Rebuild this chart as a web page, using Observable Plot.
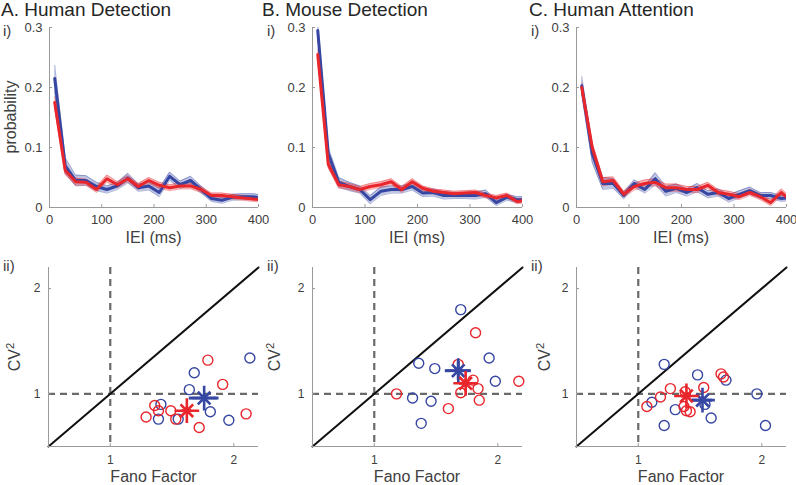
<!DOCTYPE html>
<html><head><meta charset="utf-8">
<script src="https://cdn.jsdelivr.net/npm/d3@7"></script>
<script src="https://cdn.jsdelivr.net/npm/@observablehq/plot@0.6"></script>
<style>
body{margin:0;background:#fff;}
#fig{position:relative;width:796px;height:485px;font-family:"Liberation Sans",Arial,sans-serif;color:#404040;overflow:hidden;background:#fff;}
.t{position:absolute;white-space:nowrap;line-height:1;}
.p{position:absolute;}
.t sup{font-size:0.7em;line-height:0;vertical-align:0.55em;}
</style></head><body><div id="fig"></div>
<script>
// ---------- data ----------
const iei = [10,30,50,70,90,110,130,150,170,190,210,230,250,270,290,310,330,350,370,390,410];
const xTicksTop = [0,100,200,300,400];
const yTicksTop = [0,0.1,0.2,0.3];
const cvDomain = [0.5, 2.2];
const cvTicks = [1, 2];

const humanDetBlue = [0.215,0.07,0.045,0.045,0.035,0.03,0.036,0.049,0.033,0.036,0.025,0.052,0.038,0.045,0.03,0.015,0.012,0.017,0.018,0.018,0.015];
const humanDetBlueSem = [0.022,0.013,0.009,0.008,0.007,0.006,0.006,0.008,0.006,0.007,0.007,0.007,0.006,0.007,0.006,0.005,0.005,0.005,0.005,0.005,0.005];
const humanDetRed = [0.175,0.062,0.043,0.042,0.03,0.048,0.038,0.048,0.035,0.045,0.037,0.033,0.036,0.036,0.03,0.02,0.02,0.018,0.016,0.014,0.013];
const humanDetRedSem = [0.01,0.007,0.006,0.005,0.005,0.006,0.005,0.005,0.005,0.005,0.005,0.005,0.005,0.005,0.005,0.004,0.004,0.004,0.004,0.004,0.004];

const mouseDetBlue = [0.295,0.09,0.042,0.035,0.03,0.013,0.027,0.03,0.03,0.035,0.024,0.025,0.02,0.02,0.02,0.02,0.023,0.008,0.017,0.013,0.013];
const mouseDetBlueSem = [0.012,0.01,0.008,0.007,0.006,0.007,0.007,0.006,0.006,0.006,0.006,0.006,0.006,0.005,0.005,0.006,0.006,0.005,0.005,0.005,0.005];
const mouseDetRed = [0.255,0.072,0.038,0.035,0.03,0.035,0.038,0.043,0.03,0.043,0.032,0.027,0.025,0.023,0.024,0.025,0.02,0.016,0.02,0.01,0.013];
const mouseDetRedSem = [0.008,0.006,0.006,0.005,0.005,0.005,0.005,0.005,0.005,0.005,0.004,0.004,0.004,0.004,0.004,0.004,0.004,0.004,0.004,0.004,0.004];

const humanAttBlue = [0.203,0.09,0.04,0.04,0.02,0.04,0.03,0.048,0.027,0.032,0.025,0.033,0.022,0.025,0.015,0.022,0.028,0.02,0.02,0.015,0.017];
const humanAttBlueSem = [0.015,0.015,0.01,0.008,0.006,0.006,0.006,0.01,0.008,0.007,0.006,0.007,0.006,0.006,0.006,0.006,0.006,0.005,0.005,0.005,0.005];
const humanAttRed = [0.2,0.1,0.043,0.045,0.022,0.035,0.04,0.042,0.033,0.033,0.03,0.03,0.037,0.025,0.022,0.018,0.025,0.018,0.008,0.025,0.011];
const humanAttRedSem = [0.008,0.007,0.007,0.006,0.005,0.006,0.006,0.006,0.006,0.006,0.005,0.005,0.005,0.005,0.005,0.005,0.005,0.005,0.005,0.006,0.005];

// scatter: [Fano Factor, CV^2]
const humanDetBlueFF = [[2.13,1.34],[1.68,1.20],[1.64,1.04],[1.41,0.90],[1.39,0.76],[1.55,0.76],[1.81,0.83],[1.96,0.75]];
const humanDetRedFF = [[1.79,1.32],[1.91,1.09],[1.36,0.89],[1.39,0.84],[1.49,0.84],[1.29,0.78],[1.53,0.76],[1.72,0.68],[2.10,0.81]];
const mouseDetBlueFF = [[1.70,1.80],[1.93,1.34],[1.36,1.29],[1.49,1.24],[1.98,1.12],[1.31,0.96],[1.46,0.93],[1.38,0.72]];
const mouseDetRedFF = [[1.82,1.58],[1.18,1.00],[1.70,1.01],[1.80,1.13],[1.84,1.05],[1.85,0.94],[1.60,0.86],[2.17,1.12],[1.68,1.28]];
const humanAttBlueFF = [[1.21,1.28],[1.48,1.18],[1.71,1.13],[1.96,1.00],[1.11,0.92],[1.30,0.85],[1.54,0.90],[1.59,0.77],[1.21,0.70],[2.03,0.70]];
const humanAttRedFF = [[1.67,1.19],[1.69,1.16],[1.26,1.05],[1.18,0.97],[1.07,0.88],[1.38,1.02],[1.53,1.06],[1.37,0.88],[1.39,0.84],[1.42,0.83]];

// means: [FF, CV2, FF err, CV2 err]
const humanDetBlueMean = [1.76, 0.96, 0.12, 0.03];
const humanDetRedMean = [1.62, 0.84, 0.04, 0.03];
const mouseDetBlueMean = [1.68, 1.22, 0.105, 0.09];
const mouseDetRedMean = [1.74, 1.10, 0.05, 0.04];
const humanAttBlueMean = [1.52, 0.94, 0.08, 0.03];
const humanAttRedMean = [1.39, 0.98, 0.04, 0.03];

// ---------- style ----------
const BLUE = "#3646a3";
const RED = "#e8262c";
const AX = "#9a9a9a";
const DASH = "#6a6a6a";
const FONT = '"Liberation Sans", Arial, sans-serif';
const fig = document.getElementById("fig");
const fmt = d3.format("~g");

function addText(html, x, baseline, size, anchor = "start", color = "#404040") {
  const d = document.createElement("div");
  d.className = "t";
  d.innerHTML = html;
  d.style.fontSize = size + "px";
  d.style.color = color;
  d.style.top = (baseline - 0.8465 * size) + "px";
  d.style.left = x + "px";
  if (anchor === "middle") d.style.transform = "translateX(-50%)";
  fig.appendChild(d);
}
function addVText(html, cx, cy, size) {
  const d = document.createElement("div");
  d.className = "t";
  d.innerHTML = html;
  d.style.fontSize = size + "px";
  d.style.left = cx + "px";
  d.style.top = cy + "px";
  d.style.transform = "translate(-50%,-50%) rotate(-90deg)";
  fig.appendChild(d);
}
function place(svg, left, top) {
  const w = document.createElement("div");
  w.className = "p";
  w.style.left = left + "px";
  w.style.top = top + "px";
  w.appendChild(svg);
  fig.appendChild(w);
}

function topPanel(x0, x1, blue, blueSem, red, redSem) {
  const ML = 49, MR = 8, MT = 27, MB = 23, H = 230;
  const W = x1 - x0, PH = H - MT - MB;
  const rows = iei.map((x, i) => ({x, b: blue[i], bs: blueSem[i], r: red[i], rs: redSem[i]}));
  const band = (v, s, color) => [
    Plot.areaY(rows, {x: "x", y1: d => d[v] - d[s], y2: d => d[v] + d[s], fill: color, fillOpacity: 0.32, clip: true}),
    Plot.lineY(rows, {x: "x", y: d => d[v] - d[s], stroke: color, strokeOpacity: 0.5, strokeWidth: 0.8, clip: true}),
    Plot.lineY(rows, {x: "x", y: d => d[v] + d[s], stroke: color, strokeOpacity: 0.5, strokeWidth: 0.8, clip: true})
  ];
  const svg = Plot.plot({
    width: ML + W + MR, height: H,
    marginLeft: ML, marginRight: MR, marginTop: MT, marginBottom: MB,
    x: {domain: [0, 400]}, y: {domain: [0, 0.3]},
    style: {fontFamily: FONT, fontSize: "13px", color: "#404040", background: "transparent", overflow: "visible"},
    marks: [
      ...band("b", "bs", BLUE),
      ...band("r", "rs", RED),
      Plot.lineY(rows, {x: "x", y: "b", stroke: BLUE, strokeWidth: 3, clip: true}),
      Plot.lineY(rows, {x: "x", y: "r", stroke: RED, strokeWidth: 3, clip: true}),
      Plot.ruleX([0], {stroke: AX}),
      Plot.ruleY([0], {stroke: AX}),
      Plot.tickX(xTicksTop, {x: d => d, stroke: AX, insetTop: PH - 3}),
      Plot.tickY(yTicksTop, {y: d => d, stroke: AX, insetRight: W - 3}),
      Plot.axisX({ticks: xTicksTop, tickFormat: fmt, tickSize: 0, tickPadding: 7, label: null}),
      Plot.axisY({ticks: yTicksTop, tickFormat: fmt, tickSize: 0, tickPadding: 7, label: null})
    ]
  });
  place(svg, x0 - ML, 0);
}

function bottomPanel(x0, x1, blue, red, blueMean, redMean) {
  const ML = 48, MR = 8, MT = 27, MB = 39, H = 245;
  const W = x1 - x0, PH = H - MT - MB;
  const meanMarks = (m, color) => [
    Plot.ruleY([m], {x1: d => d[0] - d[2], x2: d => d[0] + d[2], y: d => d[1], stroke: color, strokeWidth: 3}),
    Plot.ruleX([m], {y1: d => d[1] - d[3], y2: d => d[1] + d[3], x: d => d[0], stroke: color, strokeWidth: 3}),
    Plot.dot([m], {x: d => d[0], y: d => d[1], symbol: "plus", r: 8, stroke: color, strokeWidth: 2.6}),
    Plot.dot([m], {x: d => d[0], y: d => d[1], symbol: "times", r: 5.8, stroke: color, strokeWidth: 2.6})
  ];
  const svg = Plot.plot({
    width: ML + W + MR, height: H,
    marginLeft: ML, marginRight: MR, marginTop: MT, marginBottom: MB,
    x: {domain: cvDomain}, y: {domain: cvDomain},
    style: {fontFamily: FONT, fontSize: "12px", color: "#404040", background: "transparent", overflow: "visible"},
    marks: [
      Plot.ruleX([1], {stroke: DASH, strokeWidth: 2.2, strokeDasharray: "7,5"}),
      Plot.ruleY([1], {stroke: DASH, strokeWidth: 2.2, strokeDasharray: "7,5"}),
      Plot.line(cvDomain.map(d => [d, d]), {stroke: "#111", strokeWidth: 2}),
      Plot.ruleX([cvDomain[0]], {stroke: AX}),
      Plot.ruleY([cvDomain[0]], {stroke: AX}),
      Plot.tickX(cvTicks, {x: d => d, stroke: AX, insetTop: PH - 3}),
      Plot.tickY(cvTicks, {y: d => d, stroke: AX, insetRight: W - 3}),
      Plot.axisX({ticks: cvTicks, tickFormat: fmt, tickSize: 0, tickPadding: 9, label: null}),
      Plot.axisY({ticks: cvTicks, tickFormat: fmt, tickSize: 0, tickPadding: 8, label: null}),
      Plot.dot(blue, {x: d => d[0], y: d => d[1], r: 5, stroke: BLUE, strokeWidth: 1.4, fill: "none"}),
      Plot.dot(red, {x: d => d[0], y: d => d[1], r: 5, stroke: RED, strokeWidth: 1.4, fill: "none"}),
      ...meanMarks(blueMean, BLUE),
      ...meanMarks(redMean, RED)
    ]
  });
  place(svg, x0 - ML, 240);
}

// ---------- panels ----------
topPanel(49, 258, humanDetBlue, humanDetBlueSem, humanDetRed, humanDetRedSem);
topPanel(312, 522, mouseDetBlue, mouseDetBlueSem, mouseDetRed, mouseDetRedSem);
topPanel(576, 786, humanAttBlue, humanAttBlueSem, humanAttRed, humanAttRedSem);
bottomPanel(48, 258, humanDetBlueFF, humanDetRedFF, humanDetBlueMean, humanDetRedMean);
bottomPanel(312, 522, mouseDetBlueFF, mouseDetRedFF, mouseDetBlueMean, mouseDetRedMean);
bottomPanel(576, 786, humanAttBlueFF, humanAttRedFF, humanAttBlueMean, humanAttRedMean);

// ---------- text ----------
const titles = ["A. Human Detection", "B. Mouse Detection", "C. Human Attention"];
const titleX = [1, 262, 529];
const labelX = [3, 267, 531];
const centers = [153.5, 417, 681];
const cvX = [15, 275, 545];
titles.forEach((t, i) => {
  addText(t, titleX[i], 16, 19, "start", "#262626");
  addText("i)", labelX[i], 36, 15);
  addText("ii)", labelX[i], 271, 15);
  addText("IEI (ms)", centers[i], 244, 16, "middle");
  addText("Fano Factor", centers[i], 483, 16, "middle");
  addVText("CV<sup>2</sup>", cvX[i], 357, 16);
});
addVText("probability", 11, 117, 16);
</script>
</body></html>
